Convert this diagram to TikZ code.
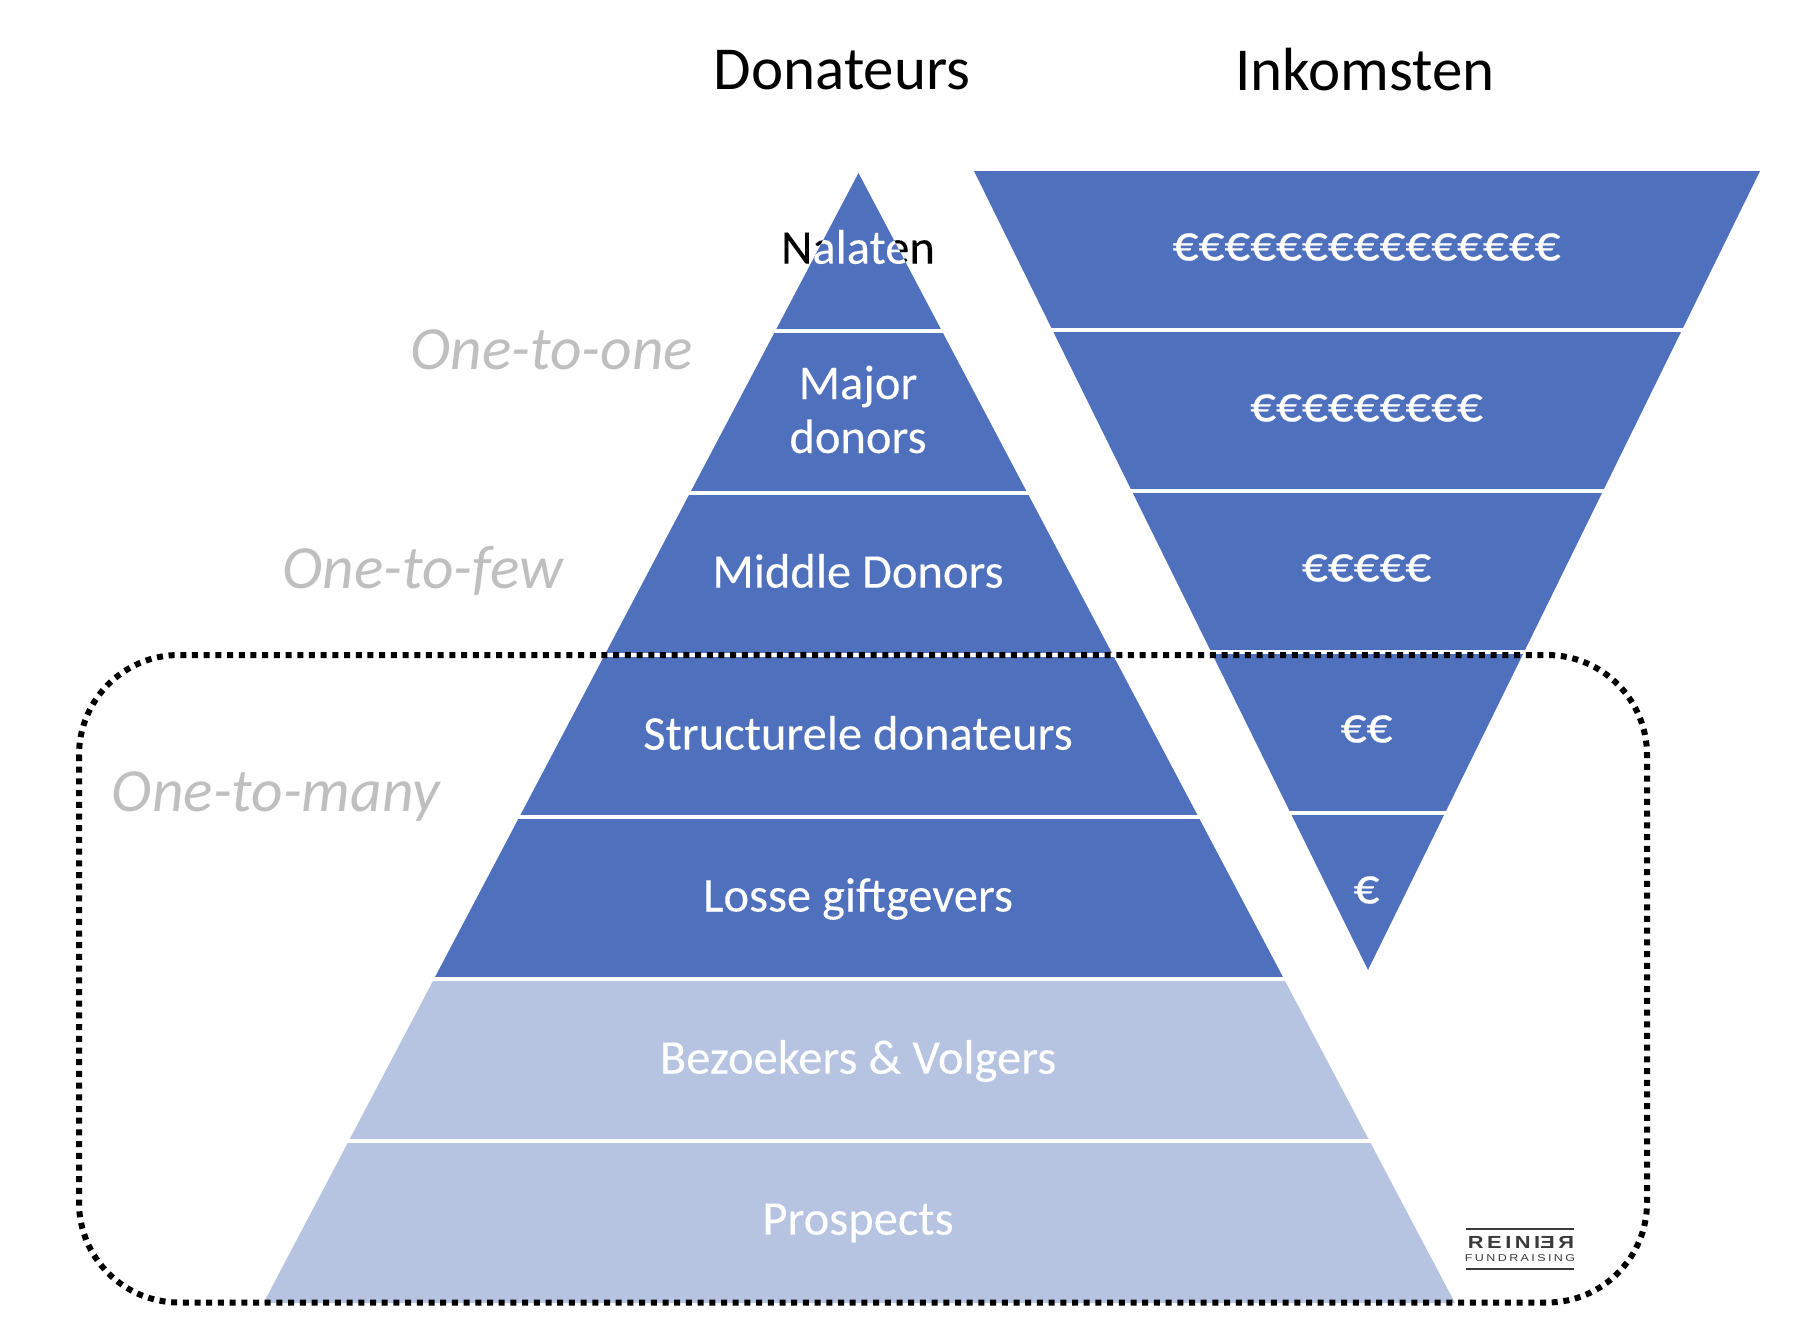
\documentclass[tikz,border=0pt]{standalone}
\usepackage{fontspec}
\usepackage{graphicx}
\usepackage{xcolor}
\setmainfont{Carlito}
\newfontfamily\logofont[FakeStretch=1.25]{Liberation Sans}
\definecolor{pyrdark}{HTML}{4F71BD}
\definecolor{pyrlight}{HTML}{B6C4E2}
\definecolor{labelgray}{HTML}{BFBFBF}
\definecolor{logogray}{HTML}{3A3A3A}
\tikzset{
	title/.style={font=\fontsize{61}{66}\selectfont,text=black},
	layer/.style={font=\fontsize{48.5}{54}\selectfont\addfontfeature{FakeBold=0.12},text=white,align=center},
	euro/.style={font=\fontsize{51}{56}\selectfont\addfontfeature{FakeBold=0.5},text=white},
	reach/.style={font=\itshape\fontsize{61.4}{66}\selectfont,text=labelgray},
	divider/.style={white,line width=3.2pt}
}
\begin{document}
\begin{tikzpicture}[x=1pt,y=-1pt]
	\useasboundingbox (0,0) rectangle (1810,1328);
	% headings
	\node[title] (donateurs) at (842,70) {Donateurs};
	\node[title] (inkomsten) at (1365,70) {Inkomsten};
	% black part of the top label, the triangle goes over it
	\node[layer,text=black] (nalaten) at (858,247) {Nalaten};
	% pyramid
	\fill[pyrdark] (858.5,173) -- (1284,979) -- (434,979) -- cycle;
	\fill[pyrlight] (434,979) -- (1284,979) -- (1455,1303) -- (263.5,1303) -- cycle;
	\draw[divider] (773,331) -- (946,331);
	\draw[divider] (687,493) -- (1032,493);
	\draw[divider] (602,655) -- (1117,655);
	\draw[divider] (517,817) -- (1202,817);
	\draw[divider] (431,979) -- (1288,979);
	\draw[divider] (346,1141) -- (1373,1141);
	% inverted pyramid
	\fill[pyrdark] (974,171) -- (1760,171) -- (1368,970) -- cycle;
	\draw[divider] (1050,330) -- (1684,330);
	\draw[divider] (1129,491) -- (1605,491);
	\draw[divider] (1208,652) -- (1526,652);
	\draw[divider] (1287,813) -- (1447,813);
	% white part of the top label
	\begin{scope}
		\clip (858.5,173) -- (1284,979) -- (434,979) -- cycle;
		\node[layer] at (858,247) {Nalaten};
	\end{scope}
	\node[layer] (major) at (858,409.5) {Major\\donors};
	\node[layer] (middle) at (858,571) {Middle Donors};
	\node[layer] (structureel) at (858,733) {Structurele donateurs};
	\node[layer] (losse) at (858,899) {Losse giftgevers};
	\node[layer] (bezoekers) at (858,1061) {Bezoekers \& Volgers};
	\node[layer] (prospects) at (858,1223) {Prospects};
	\node[euro] (euroa) at (1366.5,247) {€€€€€€€€€€€€€€€};
	\node[euro] (eurob) at (1366.5,408) {€€€€€€€€€};
	\node[euro] (euroc) at (1366.5,568) {€€€€€};
	\node[euro] (eurod) at (1366.5,729) {€€};
	\node[euro] (euroe) at (1366.5,890) {€};
	% approaches
	\node[reach] (onetoone) at (552,350) {One-to-one};
	\node[reach] (onetofew) at (423,571) {One-to-few};
	\node[reach] (onetomany) at (276,797) {One-to-many};
	% dotted frame
	\draw[black,line width=6pt,dash pattern=on 6pt off 5.7pt,rounded corners=100pt] (79,655) rectangle (1647,1302.5);
	% logo
	\draw[logogray,line width=1.3pt] (1466,1229) -- (1574,1229);
	\draw[logogray,line width=1.3pt] (1466,1269) -- (1574,1269);
	\node[text=logogray,inner sep=0pt,font={\logofont\bfseries\fontsize{17.5}{20}\selectfont\addfontfeature{LetterSpace=20}}] (logoname) at (1521,1242) {REINI\reflectbox{RE}};
	\node[text=logogray,inner sep=0pt,font={\logofont\fontsize{10}{12}\selectfont\addfontfeature{LetterSpace=24}}] (logosub) at (1520,1258) {FUNDRAISING};
\end{tikzpicture}
\end{document}
